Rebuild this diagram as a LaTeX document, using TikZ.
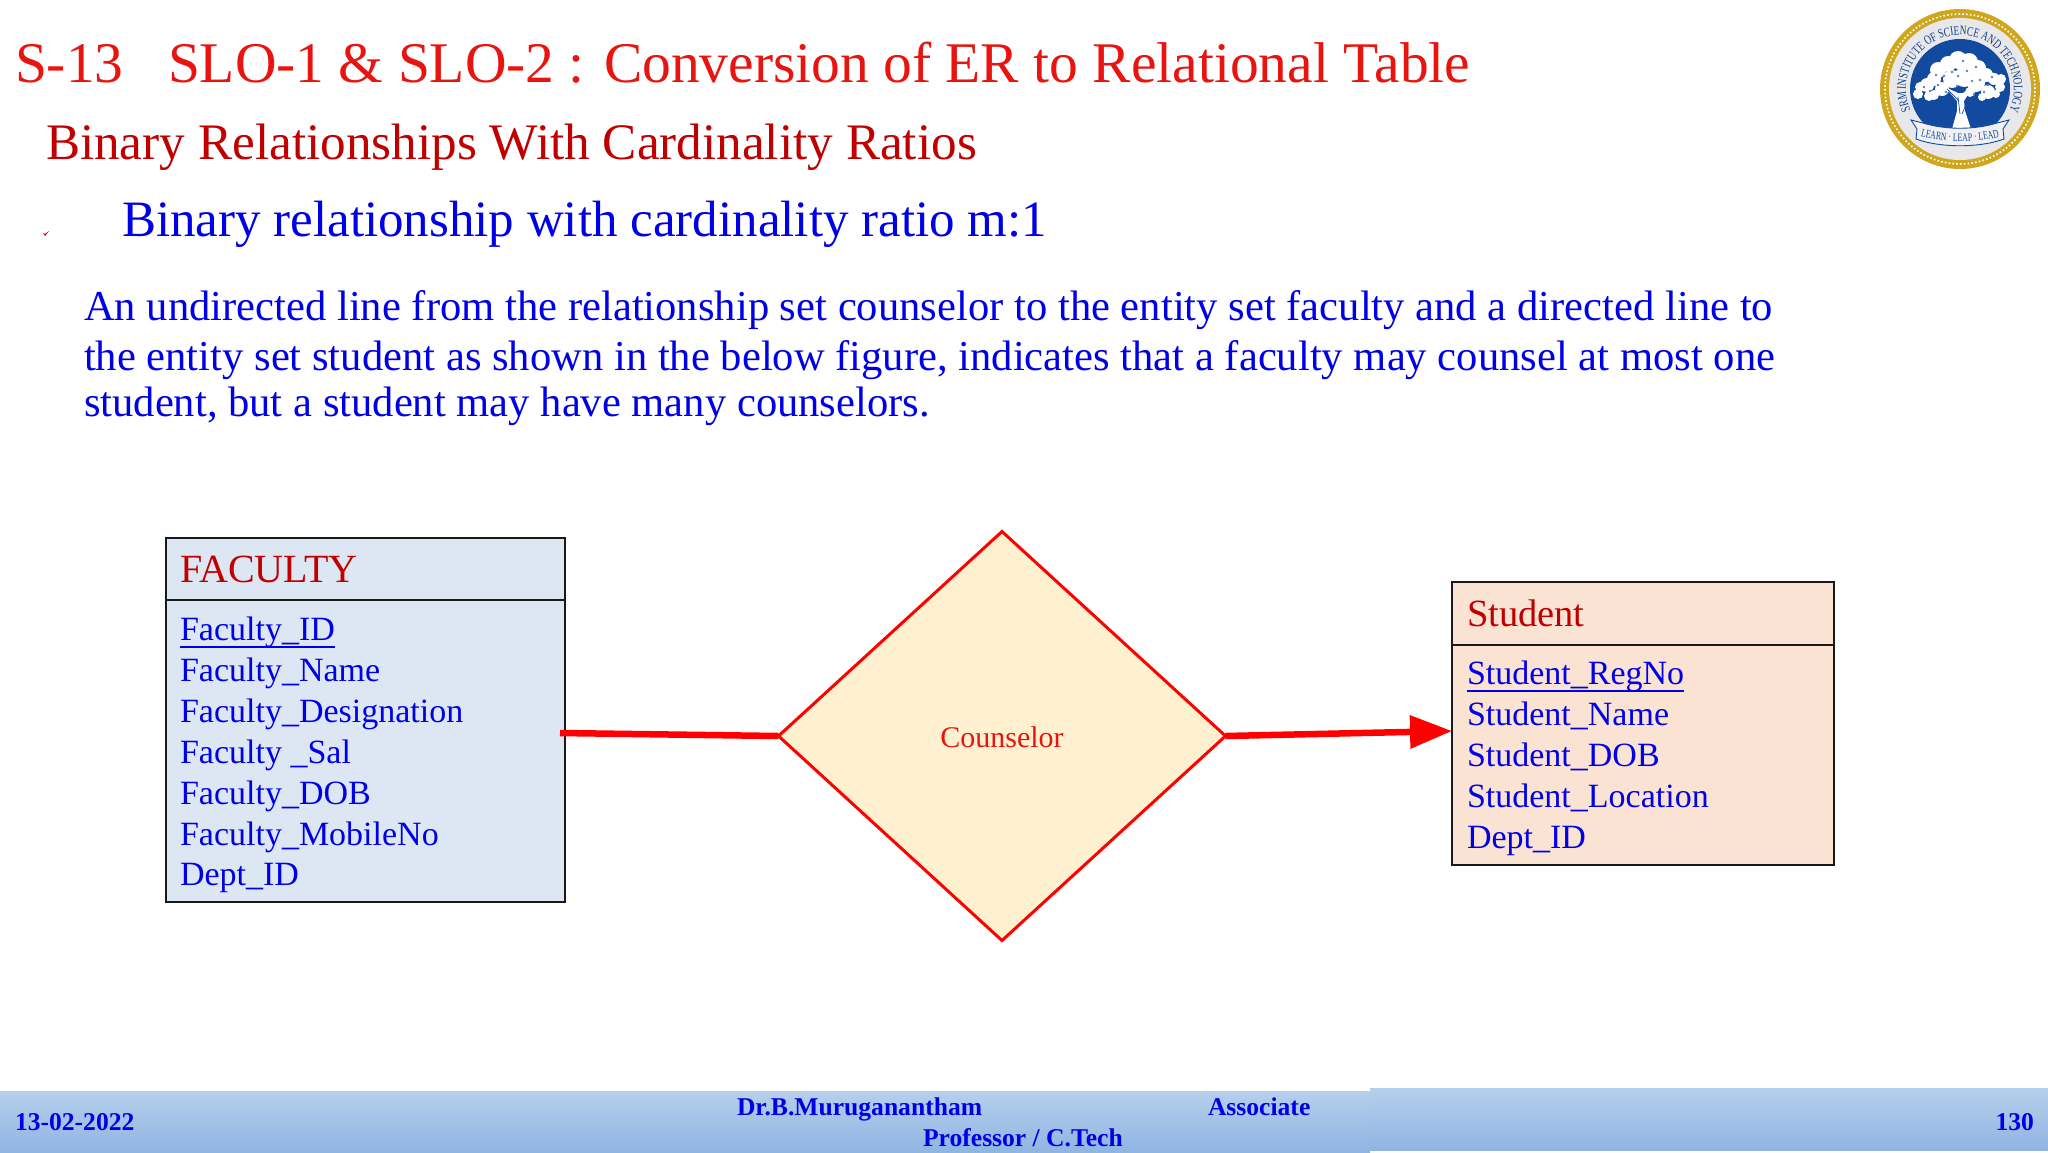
\documentclass[tikz,border=0pt]{standalone}
\usepackage{fontspec}
\setmainfont{Liberation Serif}
\newfontfamily\sealfont[FakeStretch=0.72]{Liberation Serif}
\newfontfamily\mottofont[FakeStretch=0.68]{Liberation Serif}
\usetikzlibrary{shapes.geometric,arrows.meta,decorations.text}
\definecolor{titlered}{HTML}{E8140F}
\definecolor{darkred}{HTML}{C00000}
\definecolor{txtblue}{HTML}{0000E6}
\definecolor{bluefill}{HTML}{DCE7F3}
\definecolor{peach}{HTML}{FAE3D3}
\definecolor{cream}{HTML}{FFF1CF}
\definecolor{gold}{HTML}{CFA71E}
\definecolor{sealblue}{HTML}{114A9E}
\definecolor{sealgray}{HTML}{E8E8EA}
\definecolor{barTop}{HTML}{B6CFEC}
\definecolor{barBot}{HTML}{8FB5E2}
\newcommand{\fsz}[1]{\fontsize{#1}{#1}\selectfont}
\tikzset{
  txt/.style={anchor=base west,inner sep=0pt,outer sep=0pt},
  attr/.style={txt,text=txtblue,font=\fsz{34}},
  ent/.style={txt,text=darkred,font=\fsz{40}},
  body/.style={txt,text=txtblue,font=\fsz{42.6}},
  foot/.style={inner sep=0pt,outer sep=0pt,anchor=base,text=txtblue,font=\bfseries\fsz{25.6}},
  tbl/.style={draw=black!90,line width=2.7pt,anchor=north west,inner sep=0pt,outer sep=0pt},
  rel/.style={line width=6.5pt,red},
  blob/.style={fill=white,draw=none},
}
\begin{document}
\begin{tikzpicture}[x=1pt,y=-1pt]
\useasboundingbox (0,0) rectangle (2048,1152);
% footer
\fill[top color=barTop,bottom color=barBot] (0,1091) rectangle (1370,1152);
\fill[top color=barTop,bottom color=barBot] (1370,1088) rectangle (2048,1150);
\node[foot,anchor=base west] (fdate) at (15,1130) {13-02-2022};
\node[foot,anchor=base west] (fname) at (737,1115) {Dr.B.Muruganantham};
\node[foot,anchor=base west] (fassoc) at (1208,1115) {Associate};
\node[foot,anchor=base west] (fprof) at (923,1146) {Professor / C.Tech};
\node[foot,anchor=base east] (fpage) at (2034,1130) {130};
% headings
\node[txt,text=titlered,font=\fsz{57.5}] (t1) at (15,82) {S-13};
\node[txt,text=titlered,font=\fsz{57.5}] (t2) at (168,82) {SLO-1 \& SLO-2 : Conversion of ER to Relational Table};
\node[txt,text=darkred,font=\fsz{51.2}] (sub) at (46,159) {Binary Relationships With Cardinality Ratios};
\node[txt,text=txtblue,font=\fsz{51}] (bul) at (122,236) {Binary relationship with cardinality ratio m:1};
\fill[darkred] (43,233) -- (45,236) -- (49,231) -- (45,234) -- cycle;
\node[body] (b1) at (84,320) {\makebox[1689pt][s]{An undirected line from the relationship set counselor to the entity set faculty and a directed line to}};
\node[body] (b2) at (84,370) {\makebox[1691pt][s]{the entity set student as shown in the below figure, indicates that a faculty may counsel at most one}};
\node[body] (b3) at (84,416) {student, but a student may have many counselors.};
% FACULTY
\node[tbl,fill=bluefill,minimum width=399pt,minimum height=364pt] (fac) at (166,538) {};
\coordinate (facdl) at (166,600);
\coordinate (facdr) at (565,600);
\draw[black!90,line width=2pt] (facdl) -- (facdr);
\node[ent] (facn) at (180,582) {FACULTY};
\node[attr] (a1) at (180,640) {Faculty\_ID};
\draw[txtblue,line width=2.6pt] ([yshift=-7pt]a1.base west) -- ([yshift=-7pt]a1.base east);
\node[attr] (a2) at (180,681) {Faculty\_Name};
\node[attr] (a3) at (180,722) {Faculty\_Designation};
\node[attr] (a4) at (180,763) {Faculty \_Sal};
\node[attr] (a5) at (180,804) {Faculty\_DOB};
\node[attr] (a6) at (180,845) {Faculty\_MobileNo};
\node[attr] (a7) at (180,885) {Dept\_ID};
% Student
\node[tbl,fill=peach,minimum width=382pt,minimum height=283pt] (stu) at (1452,582) {};
\coordinate (studl) at (1452,645);
\coordinate (studr) at (1834,645);
\draw[black!90,line width=2pt] (studl) -- (studr);
\node[ent,font=\fsz{38.5}] (stun) at (1467,626) {Student};
\node[attr] (s1) at (1467,684) {Student\_RegNo};
\draw[txtblue,line width=2.6pt] ([yshift=-7pt]s1.base west) -- ([yshift=-7pt]s1.base east);
\node[attr] (s2) at (1467,725) {Student\_Name};
\node[attr] (s3) at (1467,766) {Student\_DOB};
\node[attr] (s4) at (1467,807) {Student\_Location};
\node[attr] (s5) at (1467,848) {Dept\_ID};
% Counselor
\node[diamond,aspect=1.088,draw=red,line width=3pt,fill=cream,minimum width=447pt,minimum height=409pt,inner sep=0pt,outer sep=0pt] (dia) at (1002,736) {};
\node[text=titlered,font=\fsz{30},inner sep=0pt] (dial) at (1002,737) {Counselor};
% connectors
\coordinate (facout) at (560,733);
\coordinate (stuin) at (1452,731);
\draw[rel] (facout) -- (dia.west);
\draw[rel,-{Triangle[length=42pt,width=32pt]}] (dia.east) -- (stuin);
% seal
\begin{scope}[shift={(1960,89)},y=1pt]
  \fill[gold] (0,0) circle (80);
  \draw[white,line width=1.6pt,dash pattern=on 1.6pt off 2.2pt] (0,0) circle (75);
  \fill[sealgray] (0,0) circle (71);
  \fill[sealblue] (0,0) circle (50);
  \path[postaction={decorate,decoration={text along path,text align=center,
     text={|\sealfont\fsz{13}\color{sealblue!85!black}|SRM INSTITUTE OF SCIENCE AND TECHNOLOGY}}}]
     (212:54) arc[start angle=212,end angle=-32,radius=54];
  % tree
  \fill[white] (-8,-40) -- (-3,-22) -- (-3,-12) -- (-15,2) -- (-2,-4) -- (3,-4) -- (14,4) -- (4,-12) -- (5,-22) -- (11,-40) -- cycle;
  \foreach \a/\b/\r in {-42/-5/5,-40/2/5,-33/4/7,-26/10/7,-31/-7/5,-22/19/8,-12/25/8,-2/29/9,9/27/9,18/21/8,26/14/7,34/10/6,41/10/5,40/2/5,36/-5/4,28/-3/7,16/6/9,4/12/10,-8/10/9,-18/0/7,-26/-6/5,10/-3/5,22/-8/4}{
    \fill[blob] (\a,\b) circle (\r);
  }
  \foreach \a/\b in {-22/4,-8/17,7/18,20/9,-30/-2,14/-5,28/4,-3/3,-16/13,-36/2,-14/-3,3/28,12/8,32/12,-24/14,24/-3,-2/13,16/22}{
    \fill[sealblue!70] (\a,\b) circle (1.4);
  }
  \draw[sealblue,line width=.7pt] (0,-25) -- (-2,-8) (2,-25) -- (9,-8) (-1,-12) -- (-13,0);
  % banner
  \fill[sealgray!60!white,draw=sealblue,line width=.9pt] (-37,-34) .. controls (-15,-41) and (15,-41) .. (37,-34) -- (49,-31) -- (43,-40) -- (44,-50) .. controls (20,-59) and (-20,-59) .. (-44,-50) -- (-43,-40) -- (-49,-31) -- cycle;
  \path[postaction={decorate,decoration={text along path,text align=center,
     text={|\mottofont\fsz{11.5}\color{sealblue}|LEARN · LEAP · LEAD}}}]
     (-42,-47) .. controls (-18,-54) and (18,-54) .. (42,-47);
\end{scope}
\end{tikzpicture}
\end{document}
